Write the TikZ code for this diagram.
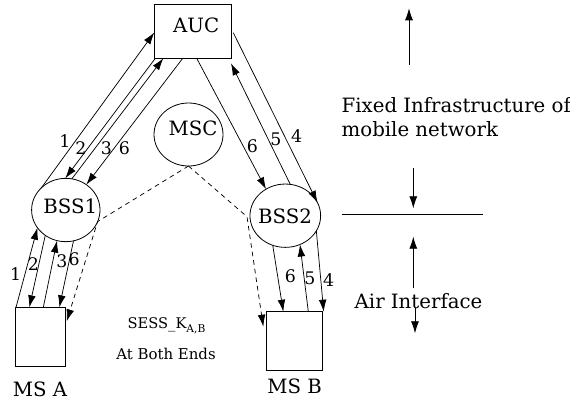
\documentclass[tikz,border=0pt]{standalone}
\usepackage{fontspec}
\setmainfont{DejaVu Serif}
\usetikzlibrary{arrows.meta,calc,shapes.geometric}
\begin{document}
\begin{tikzpicture}[x=0.75pt,y=-0.75pt,
  every node/.style={inner sep=0pt,outer sep=0pt},
  box/.style={draw,line width=0.6pt,rectangle},
  ell/.style={draw,line width=0.6pt,ellipse},
  big/.style={font=\fontsize{14.8}{17.5}\selectfont},
  num/.style={font=\fontsize{13}{14}\selectfont},
  msg/.style={line width=0.55pt,-{Latex[length=9pt,width=5.8pt]}},
  ctl/.style={msg,dash pattern=on 3.5pt off 3pt},
  side/.style={line width=0.6pt,-{Latex[length=9pt,width=6pt]}}
]
\useasboundingbox (0,0) rectangle (570,400);
% nodes
\node[box,minimum width=57.5pt,minimum height=40.2pt] (auc) at (192.65,31.5) {};
\node[big,anchor=base] (auct) at (196.2,32.7) {AUC};
\node[ell,minimum width=51.75pt,minimum height=47.25pt] (msc) at (188.5,134.5) {};
\node[big,anchor=base] (msct) at (193,135) {MSC};
\node[ell,minimum width=51.3pt,minimum height=47.5pt] (bss1) at (65.8,210) {};
\node[big,anchor=base] (bss1t) at (70.3,213) {BSS1};
\node[ell,minimum width=53pt,minimum height=47.5pt] (bss2) at (285.3,215.7) {};
\node[big,anchor=base] (bss2t) at (285,223.3) {BSS2};
\node[box,minimum width=38pt,minimum height=44.5pt] (msa) at (40.35,337) {};
\node[big,anchor=base] (msat) at (40,396.7) {MS A};
\node[box,minimum width=42.5pt,minimum height=43.7pt] (msb) at (294.35,340.85) {};
\node[big,anchor=base] (msbt) at (294.7,393.3) {MS B};
\node[font=\fontsize{11}{12}\selectfont,anchor=base] (sess) at (166.5,328.3) {SESS\_K\raisebox{-3.5pt}{\fontsize{8}{8}\selectfont A,B}};
\node[font=\fontsize{11.2}{13}\selectfont,anchor=base] (ends) at (166,359.3) {At Both Ends};
% AUC -- BSS1
\draw[msg] (bss1.138.2) -- ($(auc.west)+(0,1)$);
\draw[msg] ($(auc.south west)+(1,0)$) -- (bss1.91.4);
\draw[msg] (bss1.79) -- ($(auc.south west)+(9,0)$);
\draw[msg] ($(auc.south west)+(28.4,0)$) -- (bss1.51.9);
% AUC -- BSS2
\draw[msg] ($(auc.south west)+(42.4,0)$) -- (bss2.126.5);
\draw[msg] (bss2.81.3) -- ($(auc.south east)+(0,5)$);
\draw[msg] ($(auc.east)+(2.3,1.2)$) -- (bss2.22.7);
% BSS1 -- MS A
\draw[msg] ($(msa.north west)+(1,0)$) -- (bss1.212.4);
\draw[msg] (bss1.231.2) -- ($(msa.north west)+(14.3,0)$);
\draw[msg] ($(msa.north west)+(28.3,0)$) -- (bss1.254.5);
\draw[msg] (bss1.284) -- ($(msa.north west)+(44.3,0)$);
% BSS2 -- MS B
\draw[msg] (bss2.247.4) -- ($(msb.north west)+(17.3,0)$);
\draw[msg] ($(msb.north west)+(42.3,0)$) -- (bss2.297.5);
\draw[msg] (bss2.334.3) -- ($(msb.north east)+(1,0)$);
% MSC dashed
\draw[ctl] (msc.south) -- (bss1.340.6) -- ($(msa.north east)+(1,14)$);
\draw[ctl] (msc.south) -- ($(bss2.west)+(-3,1)$) -- ($(msb.north west)+(-2.7,15)$);
% numbers
\node[num] (n1) at (65,141.5) {1};
\node[num] (n2) at (80.8,148.5) {2};
\node[num] (n3) at (106.3,148.5) {3};
\node[num] (n6) at (124.3,148.5) {6};
\node[num] (r6) at (252.5,145.8) {6};
\node[num] (r5) at (276,139.5) {5};
\node[num] (r4) at (296.7,136.3) {4};
\node[num] (m1) at (15.7,273.7) {1};
\node[num] (m2) at (33.5,264.5) {2};
\node[num] (m3) at (62,261.2) {3};
\node[num] (m6) at (74.2,259) {6};
\node[num] (b6) at (290.5,276.3) {6};
\node[num] (b5) at (310,278.3) {5};
\node[num] (b4) at (328.7,280.3) {4};
% right side
\coordinate (u1) at (409,65);
\coordinate (u2) at (409,8.3);
\draw[side] (u1) -- (u2);
\node[big,anchor=north west,align=left] (fixed) at (341.7,97.8) {Fixed Infrastructure of\\mobile network};
\coordinate (d1) at (413.3,168.3);
\coordinate (d2) at (413.3,208.3);
\draw[side] (d1) -- (d2);
\coordinate (h1) at (341.7,214.3);
\coordinate (h2) at (483.3,214.3);
\draw[line width=0.6pt] (h1) -- (h2);
\coordinate (a1) at (413.3,288.3);
\coordinate (a2) at (413.3,236.7);
\draw[side] (a1) -- (a2);
\node[big,anchor=base] (air) at (418.5,308.3) {Air Interface};
\coordinate (b1) at (415,308.3);
\coordinate (b2) at (415,333.3);
\draw[side] (b1) -- (b2);
\end{tikzpicture}
\end{document}
